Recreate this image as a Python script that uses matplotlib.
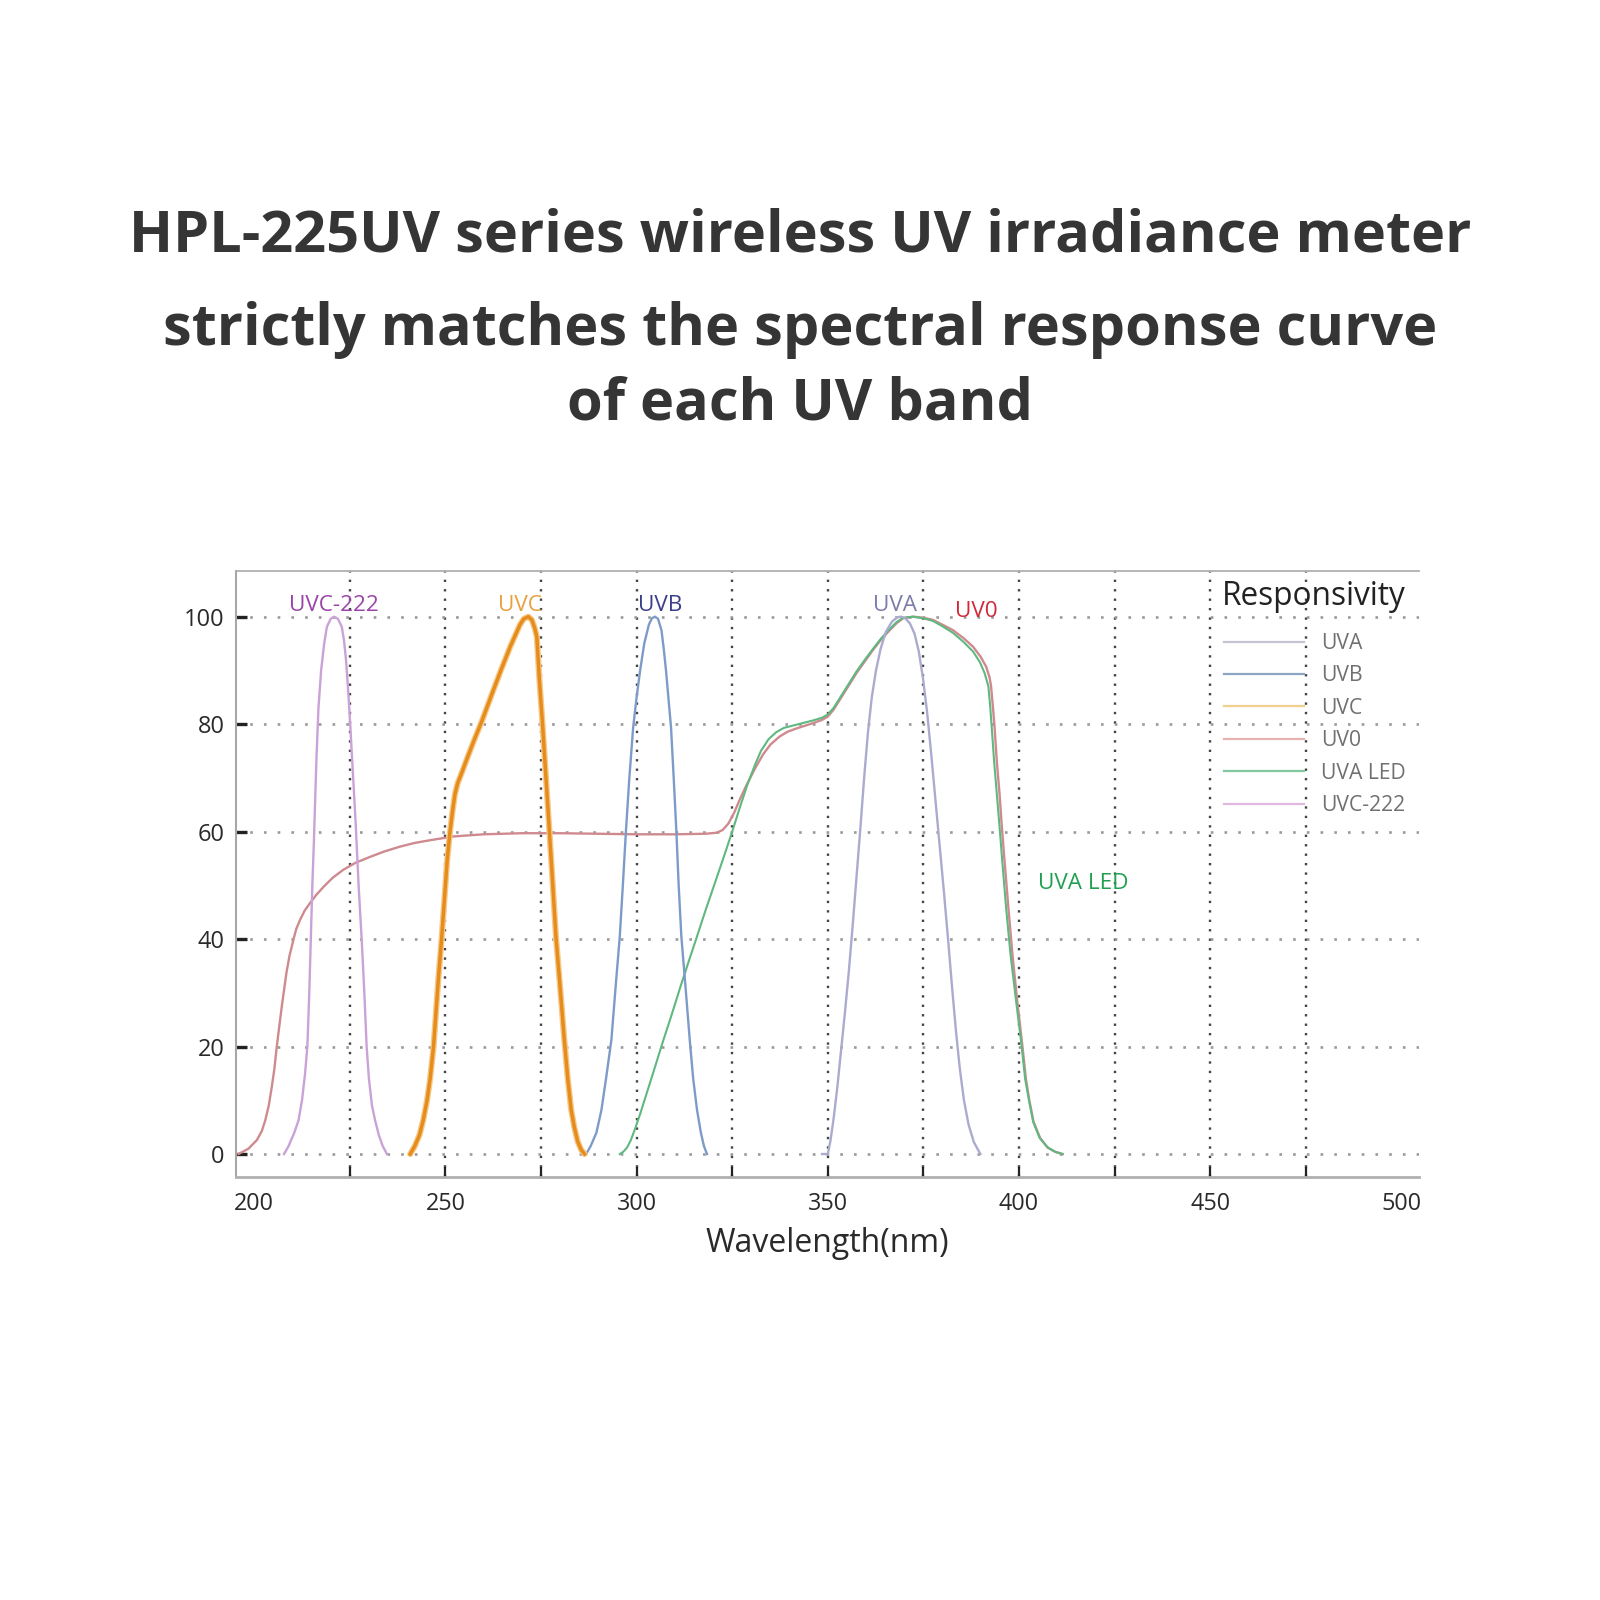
import matplotlib
matplotlib.use("Agg")
import matplotlib.pyplot as plt
from matplotlib.lines import Line2D

plt.rcParams['font.family'] = ['Open Sans', 'DejaVu Sans']

# ---------------- data ----------------
title_lines = ["HPL-225UV series wireless UV irradiance meter",
               "strictly matches the spectral response curve",
               "of each UV band"]

uvc222_x = [207.8, 209.0, 210.5, 211.6, 212.5, 213.3, 213.9, 214.4, 214.8, 215.2, 215.6, 215.9,
            216.3, 216.8, 217.5, 218.3, 219.0, 220.0, 220.9, 221.9, 222.9, 223.5, 224.0, 224.6,
            225.1, 225.8, 226.5, 227.3, 228.1, 228.8, 229.4, 230.0, 230.8, 231.6, 232.6, 233.6, 234.7]
uvc222_y = [0, 1.5, 4, 6.3, 10, 15, 20, 30, 40, 50, 58, 65,
            74, 83, 90, 95, 98.1, 99.6, 100, 99.6, 98.1, 95.5, 92, 86,
            80, 71, 62, 50, 40, 30, 20, 14, 9, 6.3, 3.5, 1.5, 0]

uvc_x = [240.8, 242.0, 243.2, 244.2, 245.2, 246.0, 246.9, 247.6, 248.2, 249.0, 249.8, 250.5,
         251.2, 251.9, 252.5, 253.2, 254.3, 255.5, 257.5, 259.5, 262.0, 264.5, 267.0, 269.5,
         270.5, 271.7, 272.6, 273.3, 273.9, 274.6, 275.4, 276.3, 277.2, 278.0, 278.9, 280.0,
         281.1, 282.0, 282.9, 283.7, 284.6, 285.5, 286.4]
uvc_y = [0, 1.5, 3.5, 6.3, 10, 14, 20, 27, 33, 40, 48, 55,
         60, 64, 67, 69, 71, 73.3, 77, 80.5, 85.3, 90, 94.5, 98.5,
         99.6, 100, 99.4, 98, 96.3, 88, 80, 70, 60, 51, 40.5, 31,
         21.2, 14, 8.2, 5, 2.3, 0.8, 0]

uvb_x = [286.8, 288.0, 289.5, 290.8, 292.0, 293.4, 294.5, 295.6, 296.4, 297.2, 298.1, 299.1,
         300.0, 300.9, 302.0, 303.2, 304.0, 304.8, 305.6, 306.5, 307.1, 307.7, 308.3, 309.0,
         309.7, 310.4, 311.0, 311.7, 312.8, 313.9, 314.8, 315.8, 316.8, 317.6, 318.4]
uvb_y = [0, 1.5, 4, 8.2, 14, 21.2, 31, 40.5, 50, 60, 70, 79.4,
         85, 89.9, 95, 98.5, 99.7, 100, 99.6, 97.5, 94, 89.9, 85, 79.4,
         70, 60, 50, 40.5, 31, 21.2, 14, 8.2, 4, 1.5, 0]

uva_x = [348.5, 350.0, 350.7, 351.5, 352.5, 353.5, 354.5, 355.5, 356.5, 357.5, 358.5, 359.5,
         360.5, 361.5, 362.6, 363.8, 365.2, 366.8, 368.2, 369.2, 370.3, 371.5, 372.7, 373.8,
         374.9, 376.0, 377.1, 378.2, 379.3, 380.4, 381.5, 382.5, 383.5, 384.5, 385.6, 386.8,
         388.2, 389.9]
uva_y = [0, 0, 2.5, 6.5, 12.5, 19.5, 26.5, 34, 42.5, 51.5, 60.5, 70,
         78.5, 85, 90, 94, 97.2, 99.1, 99.9, 100, 99.7, 98.7, 96.8, 93.5,
         88.5, 82, 74, 65.5, 57, 48.5, 39.5, 31, 23, 16, 10, 5.5,
         2.2, 0]

uv0_x = [195.9, 198.5, 200.7, 202.0, 202.9, 203.8, 204.6, 205.3, 205.9, 206.6, 207.2, 207.8,
         208.4, 209.2, 210.3, 211.0, 212.0, 213.2, 214.6, 216.2, 218.1, 220.5, 223.3, 226.5,
         230.3, 234.0, 238.1, 242.0, 246.0, 252.1, 260.0, 270.0, 280.0, 290.0, 300.0, 310.0,
         318.0, 321.0, 322.5, 324.0, 325.5, 327.0, 328.7, 331.0, 333.1, 335.0, 337.4, 339.5,
         341.8, 344.0, 346.2, 348.5, 350.0, 351.5, 353.1, 355.3, 357.5, 359.7, 361.8, 364.0,
         366.2, 368.0, 369.7, 372.3, 375.0, 377.5, 380.0, 382.7, 385.5, 388.0, 390.0, 391.4,
         392.3, 392.7, 393.2, 393.6, 394.2, 394.9, 395.5, 396.2, 397.2, 398.3, 399.5, 400.9,
         401.8, 402.7, 403.8, 405.5, 407.5, 409.5, 411.4]
uv0_y = [0, 1, 2.6, 4.3, 6.3, 9, 12.5, 16, 20, 24, 27.4, 30.5,
         33.6, 36.8, 40, 41.9, 43.6, 45.3, 46.7, 48.2, 49.7, 51.4, 52.9, 54.2,
         55.3, 56.3, 57.2, 57.9, 58.4, 59.1, 59.5, 59.7, 59.7, 59.6, 59.5, 59.5,
         59.6, 59.8, 60.3, 61.5, 63.5, 66, 68.6, 71.8, 74.4, 76.2, 77.7, 78.6,
         79.2, 79.7, 80.2, 80.8, 81.4, 82.7, 84.5, 87, 89.5, 91.7, 93.8, 95.8,
         97.5, 98.8, 99.7, 100, 99.8, 99.4, 98.5, 97.5, 96, 94.4, 92.5, 90.7,
         88.7, 87, 83, 79.5, 73, 67.1, 61, 54.7, 46, 37, 28.7, 20,
         14, 10, 6, 3, 1.2, 0.4, 0]

uvaled_x = [295.6, 296.5, 297.5, 298.5, 299.5, 300.9, 302.5, 304.5, 307.0, 309.2, 311.4, 313.6,
            315.8, 318.0, 320.5, 322.8, 325.0, 327.0, 329.0, 331.0, 332.5, 334.5, 336.5, 338.5,
            341.8, 344.0, 346.2, 348.5, 350.0, 351.5, 353.1, 355.3, 357.5, 359.7, 361.8, 364.0,
            366.2, 368.0, 369.7, 372.3, 375.0, 377.5, 380.0, 382.7, 385.5, 388.0, 389.8, 391.0,
            392.0, 392.5, 392.9, 393.5, 394.2, 394.9, 395.6, 396.6, 397.8, 399.2, 400.7, 401.6,
            402.6, 403.7, 405.4, 407.5, 409.5, 411.4]
uvaled_y = [0, 0.4, 1.2, 2.6, 4.5, 7.4, 11, 15.5, 21.2, 26, 31, 35.8,
            40.5, 45.3, 50.5, 55.3, 60, 64.5, 68.8, 72.5, 75.0, 77.2, 78.5, 79.3,
            79.9, 80.3, 80.7, 81.2, 81.8, 83, 84.8, 87.3, 89.8, 92, 94, 96,
            97.7, 99, 99.8, 100, 99.7, 99.2, 98.2, 97, 95.3, 93.5, 91.5, 89.5,
            87, 83, 79, 73, 67, 61, 54.7, 46, 37, 28.7, 20, 14,
            10, 6, 3, 1.2, 0.4, 0]

legend_names = ["UVA", "UVB", "UVC", "UV0", "UVA LED", "UVC-222"]
legend_title = "Responsivity"

label_names = ["UVC-222", "UVC", "UVB", "UVA", "UV0", "UVA LED"]
label_x = [220.9, 269.5, 306.1, 367.5, 388.9, 416.9]
label_y = [102.0, 102.0, 102.0, 102.0, 101.0, 50.4]

xtick_vals = [200, 225, 250, 275, 300, 325, 350, 375, 400, 425, 450, 475, 500]
xtick_text = ['200', '', '250', '', '300', '', '350', '', '400', '', '450', '', '500']
xgrid_vals = [225, 250, 275, 300, 325, 350, 375, 400, 425, 450, 475]
ytick_vals = [0, 20, 40, 60, 80, 100]

# ---------------- styles ----------------
col_uvc222 = '#c9a2d8'
col_uvc = '#e68c1a'
col_uvb = '#7d9bc9'
col_uva = '#ababcf'
col_uv0 = '#cf8a8f'
col_uvaled = '#5fb87f'

leg_cols = ['#c4c4d2', '#8ea6c6', '#f0d08e', '#e6b2b2', '#82c8a0', '#e0b8e2']
label_cols = ['#9a44a8', '#e8a040', '#3b3f8a', '#7b7ba8', '#d02a3a', '#1fa050']

fig = plt.figure(figsize=(16, 16), dpi=100)
fig.patch.set_facecolor('white')

for line, yb in zip(title_lines, [252, 345, 420]):
    fig.text(0.5, 1 - yb / 1600, line, ha='center', va='baseline',
             fontsize=41.5, fontweight='bold', color='#353535')

ax = fig.add_axes([235.7 / 1600, 1 - 1176.7 / 1600, (1419 - 235.7) / 1600, (1176.7 - 571) / 1600])
ax.set_xlim(195.16, 504.6)
ax.set_ylim(-4.22, 108.5)

# grid
for xv in xgrid_vals:
    ax.axvline(xv, color='#444444', lw=1.7, linestyle=(0, (1, 3.0)), zorder=1)
for yv in ytick_vals:
    ax.axhline(yv, color='#9a9a9a', lw=1.9, linestyle=(0, (1, 4.2)), zorder=1)

ax.plot(uv0_x, uv0_y, color=col_uv0, lw=1.7, zorder=3)
ax.plot(uvaled_x, uvaled_y, color=col_uvaled, lw=1.5, zorder=3)
ax.plot(uvc222_x, uvc222_y, color=col_uvc222, lw=1.7, zorder=3)
ax.plot(uvb_x, uvb_y, color=col_uvb, lw=1.7, zorder=3)
ax.plot(uva_x, uva_y, color=col_uva, lw=1.7, zorder=3)
ax.plot(uvc_x, uvc_y, color='#f6c98a', lw=4.4, zorder=3, solid_capstyle='round')
ax.plot(uvc_x, uvc_y, color=col_uvc, lw=2.5, zorder=4)

for name, xx, yy, cc in zip(label_names, label_x, label_y, label_cols):
    ax.text(xx, yy, name, ha='center', va='center', fontsize=16.2, color=cc, zorder=5)

# ticks
ax.set_xticks(xtick_vals)
ax.set_xticklabels(xtick_text)
ax.tick_params(axis='x', direction='in', length=7, width=1.6, color='#222',
               pad=11, labelsize=16.8, labelcolor='#2a2a2a')
xt = ax.xaxis.get_major_ticks()
for i in (0, len(xt) - 1):
    xt[i].tick1line.set_visible(False)
ax.set_yticks(ytick_vals)
ax.set_yticklabels([str(v) for v in ytick_vals])
ax.tick_params(axis='y', direction='in', length=8, width=2.4, color='#222',
               pad=8, labelsize=17, labelcolor='#2a2a2a')

ax.spines['right'].set_visible(False)
ax.spines['left'].set_color('#a8a8a8')
ax.spines['left'].set_linewidth(1.5)
ax.spines['bottom'].set_color('#b0b0b0')
ax.spines['bottom'].set_linewidth(2.0)
ax.spines['top'].set_color('#b0b0b0')
ax.spines['top'].set_linewidth(1.3)

ax.set_xlabel('Wavelength(nm)', fontsize=23, color='#2a2a2a', labelpad=8)

fig.text(1314 / 1600, 1 - 596 / 1600, legend_title, ha='center', va='center',
         fontsize=22.8, color='#222')
handles = [Line2D([0], [0], color=c, lw=1.6) for c in leg_cols]
leg = ax.legend(handles, legend_names, loc='upper left',
                bbox_to_anchor=(1224 / 1600, 1 - 633 / 1600), bbox_transform=fig.transFigure,
                frameon=False, fontsize=15.2,
                handlelength=3.8, handletextpad=0.8, labelspacing=0.54,
                borderpad=0, borderaxespad=0)
for t in leg.get_texts():
    t.set_color('#707070')

fig.savefig('out.png', dpi=100, facecolor='white')
